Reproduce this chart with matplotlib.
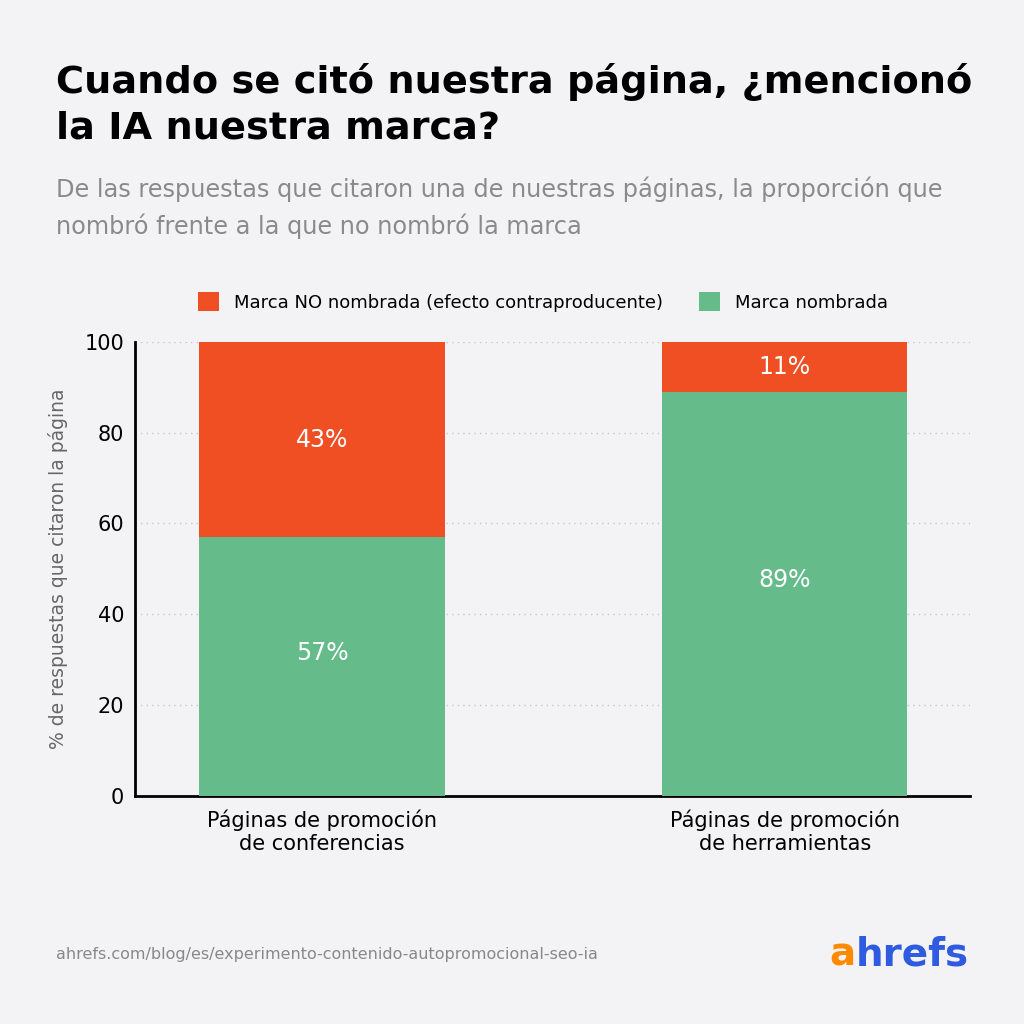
import matplotlib
matplotlib.use("Agg")
import matplotlib.pyplot as plt

categories = ["Páginas de promoción\nde conferencias", "Páginas de promoción\nde herramientas"]
named = [57, 89]
not_named = [43, 11]
series_labels = ["Marca NO nombrada (efecto contraproducente)", "Marca nombrada"]

bg = "#f3f3f5"
orange = "#f04e23"
green = "#66bb8a"

plt.rcParams['font.family'] = ['DejaVu Sans']
fig = plt.figure(figsize=(10.24, 10.24), dpi=100, facecolor=bg)
ax = fig.add_axes([0.132, 0.223, 0.815, 0.443], facecolor=bg)

x = list(range(len(categories)))
w = 0.53
ax.bar(x, named, w, color=green, label=series_labels[1], zorder=3)
ax.bar(x, not_named, w, bottom=named, color=orange, label=series_labels[0], zorder=3)
for i in x:
    ax.text(i, named[i] / 2 + 3, f"{named[i]}%", ha="center", va="center", color="white", fontsize=17, zorder=4)
    ax.text(i, named[i] + not_named[i] / 2, f"{not_named[i]}%", ha="center", va="center", color="white", fontsize=17, zorder=4)

ax.set_xlim(-0.404, 1.4)
ax.set_ylim(0, 100)
ax.set_yticks([0, 20, 40, 60, 80, 100])
ax.tick_params(axis="y", labelsize=15, length=0, pad=8)
ax.tick_params(axis="x", labelsize=15, length=0, pad=10)
ax.set_xticks(x)
ax.set_xticklabels(categories)
ax.grid(axis="y", color="#c8c8c8", linestyle=(0, (1, 3)), linewidth=1, zorder=0)
for s in ["top", "right"]:
    ax.spines[s].set_visible(False)
ax.spines["left"].set_linewidth(2)
ax.spines["bottom"].set_linewidth(2)
ax.set_ylabel("% de respuestas que citaron la página", fontsize=13.5, color="#666666", labelpad=12)

h, l = ax.get_legend_handles_labels()
fig.legend(h[::-1], l[::-1], loc="center", bbox_to_anchor=(0.53, 0.705), ncol=2, frameon=False,
           fontsize=13, handlelength=1.2, handleheight=1.2, columnspacing=2.0)

fig.text(0.055, 0.898, "Cuando se citó nuestra página, ¿mencionó\nla IA nuestra marca?", fontsize=27.5,
         fontweight="bold", va="center", ha="left", linespacing=1.35)
fig.text(0.055, 0.797, "De las respuestas que citaron una de nuestras páginas, la proporción que\nnombró frente a la que no nombró la marca",
         fontsize=17.3, color="#8a8a8a", va="center", ha="left", linespacing=1.55)
fig.text(0.055, 0.068, "ahrefs.com/blog/es/experimento-contenido-autopromocional-seo-ia", fontsize=11.5, color="#888888", va="center")
fig.text(0.81, 0.068, "a", fontsize=28, fontweight="bold", color="#ff8a00", va="center")
fig.text(0.836, 0.068, "hrefs", fontsize=28, fontweight="bold", color="#2f5be0", va="center")

fig.savefig("out.png", dpi=100, facecolor=bg)
